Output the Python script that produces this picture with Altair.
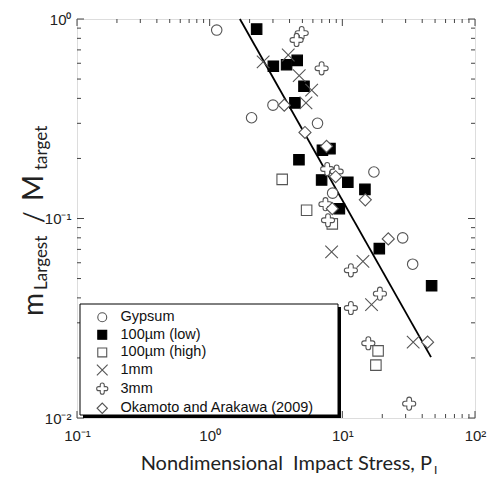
import altair as alt
import pandas as pd

# ---------------- data ----------------
series_names = ["Gypsum", "100\u00b5m (low)", "100\u00b5m (high)", "1mm", "3mm",
                "Okamoto and Arakawa (2009)"]

gyp_x = [1.13, 2.07, 3.0, 6.5, 8.45, 17.3, 28.5, 33.9]
gyp_y = [0.88, 0.32, 0.37, 0.30, 0.134, 0.171, 0.080, 0.059]
low_x = [2.26, 3.02, 3.8, 4.57, 5.14, 4.39, 4.71, 7.08, 8.07, 6.98, 11.0, 14.8, 9.5, 19.0, 47.1]
low_y = [0.89, 0.58, 0.59, 0.62, 0.46, 0.38, 0.197, 0.22, 0.224, 0.156, 0.152, 0.140, 0.112,
         0.0706, 0.046]
high_x = [3.52, 5.38, 8.4, 18.6, 17.9]
high_y = [0.157, 0.110, 0.094, 0.0217, 0.0184]
mm1_x = [2.53, 3.91, 4.73, 5.87, 5.32, 8.3, 14.3, 16.6, 34.2]
mm1_y = [0.61, 0.66, 0.52, 0.44, 0.38, 0.068, 0.061, 0.037, 0.024]
mm3_x = [4.94, 4.52, 6.98, 7.69, 9.06, 7.46, 7.8, 11.6, 19.2, 11.6, 15.7, 31.9]
mm3_y = [0.85, 0.785, 0.566, 0.177, 0.172, 0.118, 0.098, 0.055, 0.042, 0.0356, 0.0237, 0.0118]
oka_x = [3.65, 5.23, 7.6, 8.9, 14.9, 8.4, 22.2, 43.9]
oka_y = [0.37, 0.27, 0.23, 0.162, 0.124, 0.112, 0.079, 0.024]

fit_x = [1.69, 46.6]
fit_y = [1.0, 0.0202]

x_major_ticks = [0.1, 1, 10, 100]
x_tick_labels = ["10\u207b\u00b9", "10\u2070", "10\u00b9", "10\u00b2"]
x_minor_ticks = [0.2, 0.3, 0.4, 0.5, 0.6, 0.7, 0.8, 0.9,
                 2, 3, 4, 5, 6, 7, 8, 9,
                 20, 30, 40, 50, 60, 70, 80, 90]
y_major_ticks = [0.01, 0.1, 1]
y_tick_labels = ["10\u207b\u00b2", "10\u207b\u00b9", "10\u2070"]
y_minor_ticks = [0.02, 0.03, 0.04, 0.05, 0.06, 0.07, 0.08, 0.09,
                 0.2, 0.3, 0.4, 0.5, 0.6, 0.7, 0.8, 0.9]

# ---------------- build tables ----------------
rows = []
for name, xs_, ys_ in zip(series_names,
                          [gyp_x, low_x, high_x, mm1_x, mm3_x, oka_x],
                          [gyp_y, low_y, high_y, mm1_y, mm3_y, oka_y]):
    for a, b in zip(xs_, ys_):
        rows.append({"series": name, "x": a, "y": b})
pts = pd.DataFrame(rows)
pts["order"] = pts["series"].map({n: i for i, n in enumerate(series_names)})

W, H = 398, 399
XS = alt.Scale(type="log", domain=[0.1, 100], nice=False)
YS = alt.Scale(type="log", domain=[0.01, 1], nice=False)
TICK = "#444444"
MARK = "#555555"


def label_expr(values, labels):
    pairs = list(zip(values, labels))
    expr = f"'{pairs[-1][1]}'"
    for v, lab in reversed(pairs[:-1]):
        expr = f"datum.value < {v * 1.5} ? '{lab}' : ({expr})"
    return expr


AX_X = alt.Axis(values=x_major_ticks, labelExpr=label_expr(x_major_ticks, x_tick_labels),
                ticks=False, domain=False, grid=False, title=None,
                labelFont="Liberation Sans", labelFontSize=15, labelPadding=10,
                labelColor="#222222", labelFlush=False, labelOverlap=False)
AX_Y = alt.Axis(values=y_major_ticks, labelExpr=label_expr(y_major_ticks, y_tick_labels),
                ticks=False, domain=False, grid=False, title=None,
                labelFont="Liberation Sans", labelFontSize=15, labelPadding=6,
                labelColor="#222222", labelFlush=False, labelOverlap=False)


def xticks(vals, length):
    df = pd.DataFrame({"v": vals})
    bot = alt.Chart(df).mark_rule(color=TICK, strokeWidth=1).encode(
        x=alt.X("v:Q", scale=XS, axis=AX_X), y=alt.value(H), y2=alt.value(H - length))
    top = alt.Chart(df).mark_rule(color=TICK, strokeWidth=1).encode(
        x=alt.X("v:Q", scale=XS, axis=AX_X), y=alt.value(0), y2=alt.value(length))
    return [bot, top]


def yticks(vals, length):
    df = pd.DataFrame({"v": vals})
    left = alt.Chart(df).mark_rule(color=TICK, strokeWidth=1).encode(
        y=alt.Y("v:Q", scale=YS, axis=AX_Y), x=alt.value(0), x2=alt.value(length))
    right = alt.Chart(df).mark_rule(color=TICK, strokeWidth=1).encode(
        y=alt.Y("v:Q", scale=YS, axis=AX_Y), x=alt.value(W), x2=alt.value(W - length))
    return [left, right]


layers = []
layers += xticks(x_major_ticks, 7) + xticks(x_minor_ticks, 4)
layers += yticks(y_major_ticks, 7) + yticks(y_minor_ticks, 4)

one = alt.Data(values=[{"a": 1}])

# legend box with shadow
shadow = alt.Chart(one).mark_rect(fill="#000000").encode(
    x=alt.value(6), x2=alt.value(264), y=alt.value(288), y2=alt.value(399))
box = alt.Chart(one).mark_rect(fill="white", stroke="#000000", strokeWidth=1).encode(
    x=alt.value(3), x2=alt.value(261), y=alt.value(285), y2=alt.value(396))
layers += [shadow, box]

fit = alt.Chart(pd.DataFrame({"x": fit_x, "y": fit_y})).mark_line(
    color="#000000", strokeWidth=1.8).encode(
    x=alt.X("x:Q", scale=XS, axis=AX_X), y=alt.Y("y:Q", scale=YS, axis=AX_Y))
layers.append(fit)

X_PATH = "M-1.2,-1.2L1.2,1.2M-1.2,1.2L1.2,-1.2"
PLUS_PATH = ("M-0.45,-0.8A0.45,0.45 0 0 1 0.45,-0.8L0.45,-0.45L0.8,-0.45"
             "A0.45,0.45 0 0 1 0.8,0.45L0.45,0.45L0.45,0.8"
             "A0.45,0.45 0 0 1 -0.45,0.8L-0.45,0.45L-0.8,0.45"
             "A0.45,0.45 0 0 1 -0.8,-0.45L-0.45,-0.45Z")
DIAMOND_PATH = "M-1.15,0L0,-1.15L1.15,0L0,1.15Z"

shapes = ["circle", "square", "square", X_PATH, PLUS_PATH, DIAMOND_PATH]
fills = ["white", "#000000", "white", "white", "white", "white"]
strokes = [MARK, "#000000", MARK, MARK, MARK, MARK]

legend = alt.Legend(orient="none", legendX=18, legendY=291, title=None,
                    labelFont="Liberation Sans", labelFontSize=14.5, labelColor="#111111",
                    labelOffset=11, rowPadding=2.6, padding=0, symbolSize=80,
                    symbolStrokeWidth=1.1, labelLimit=400)

points = alt.Chart(pts).mark_point(filled=False, opacity=1, size=110, strokeWidth=1.1).encode(
    x=alt.X("x:Q", scale=XS, axis=AX_X),
    y=alt.Y("y:Q", scale=YS, axis=AX_Y),
    shape=alt.Shape("series:N", scale=alt.Scale(domain=series_names, range=shapes),
                    legend=legend),
    fill=alt.Fill("series:N", scale=alt.Scale(domain=series_names, range=fills),
                  legend=legend),
    stroke=alt.Stroke("series:N", scale=alt.Scale(domain=series_names, range=strokes),
                      legend=legend),
    order=alt.Order("order:Q"),
)
layers.append(points)


def txt(s, x, y, size, angle=0, align="left", baseline="alphabetic"):
    return alt.Chart(one).mark_text(
        text=s, font="Lato", fontSize=size, angle=angle, align=align,
        baseline=baseline, color="#222222").encode(x=alt.value(x), y=alt.value(y))


# y-axis title: m_Largest / M_target
layers += [
    txt("m", -34, 297, 28, angle=270),
    txt("Largest", -30, 271, 17, angle=270),
    txt("/", -34, 198, 26, angle=270, align="center"),
    txt("M", -34, 182, 28, angle=270),
    txt("target", -30, 151, 17, angle=270),
]
# x-axis title: Nondimensional  Impact Stress, P_I
layers += [
    txt("Nondimensional\u00a0 Impact Stress, P", 355, 451, 20, align="right"),
    txt("I", 357, 455, 12),
]

chart = alt.layer(*layers).properties(
    width=W, height=H,
    padding={"left": 77, "top": 19, "right": 20, "bottom": 61},
    autosize=alt.AutoSizeParams(type="none"),
).configure_view(stroke="#444444", strokeWidth=1).configure(background="white")

chart.save("out.html", embed_options={"renderer": "svg", "actions": False})
